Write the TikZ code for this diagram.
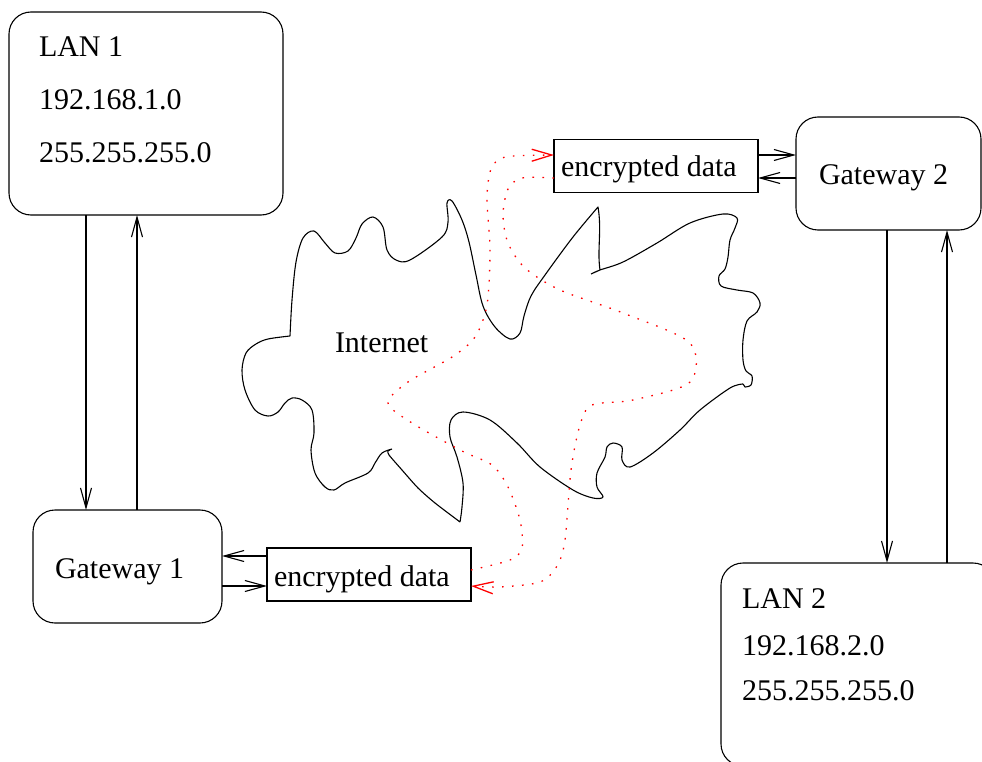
\documentclass[tikz,border=0pt]{standalone}
\usepackage{fontspec}
\setmainfont{Liberation Serif}
\usetikzlibrary{arrows.meta}
\begin{document}
\begin{tikzpicture}[x=1pt,y=-1pt,line width=1.1pt,
  every node/.style={font=\fontsize{30}{36}\selectfont},
  netbox/.style 2 args={draw, rounded corners=22pt, minimum width=#1, minimum height=#2, inner sep=0pt, outer sep=0pt},
  databox/.style={draw, minimum width=204pt, minimum height=53pt, inner sep=0pt, outer sep=0pt},
  txt/.style={anchor=base west, inner sep=0pt, outer sep=0pt},
  arr/.style={-{Straight Barb[length=20pt,width=11pt]}},
  tunnel/.style={red, line width=1.3pt, dash pattern=on 1.6pt off 8.4pt,
                 -{Straight Barb[length=20pt,width=12pt]}}]
\path[use as bounding box, clip] (0,0) rectangle (982,762);

% hosts and gateways
\node[netbox={274pt}{203pt}] (lan1) at (146,113.5) {};
\node[netbox={189pt}{113pt}] (gw1) at (127.5,566.5) {};
\node[netbox={185pt}{113pt}] (gw2) at (888.5,173.5) {};
\node[netbox={274pt}{203pt}] (lan2) at (858,664.5) {};
\node[databox] (enc1) at (369,574.5) {};
\node[databox] (enc2) at (656,166) {};

% labels
\node[txt] (lan1a) at (39,57) {LAN 1};
\node[txt] (lan1b) at (39,110) {192.168.1.0};
\node[txt] (lan1c) at (39,163) {255.255.255.0};
\node[txt] (lan2a) at (742,608) {LAN 2};
\node[txt] (lan2b) at (742,655) {192.168.2.0};
\node[txt] (lan2c) at (742,700) {255.255.255.0};
\node[txt] (gw1t) at (55,578) {Gateway 1};
\node[txt] (gw2t) at (819,185) {Gateway 2};
\node[txt] (enc1t) at (274,586) {encrypted data};
\node[txt] (enc2t) at (561,177) {encrypted data};
\node[txt] (inet) at (335,352) {Internet};

% vertical links
\coordinate (xa) at (86,0);
\coordinate (xb) at (137,0);
\coordinate (xc) at (887,0);
\coordinate (xd) at (947,0);
\draw[arr] (lan1.south -| xa) -- (gw1.north -| xa);
\draw[arr] (gw1.north -| xb) -- (lan1.south -| xb);
\draw[arr] (gw2.south -| xc) -- (lan2.north -| xc);
\draw[arr] (lan2.north -| xd) -- (gw2.south -| xd);

% horizontal links
\coordinate (ya) at (0,556);
\coordinate (yb) at (0,586);
\coordinate (yc) at (0,155);
\coordinate (yd) at (0,178);
\draw[arr] (enc1.west |- ya) -- (gw1.east |- ya);
\draw[arr] (gw1.east |- yb) -- (enc1.west |- yb);
\draw[arr] (enc2.east |- yc) -- (gw2.west |- yc);
\draw[arr] (gw2.west |- yd) -- (enc2.east |- yd);

% the Internet cloud
\draw[line join=round]
  plot[smooth, tension=0.55] coordinates {
    (290,336) (292,300) (296,262) (303,238) (314,231) (325,243) (335,253)
    (348,251) (356,238) (362,224) (373,217) (383,227) (387,250) (396,260)
    (410,260) (442,237) (448,222) (447,203) (452,201) (462,220) (469,242)
    (476,275) (483,306) (495,327) (510,339) (520,333) (524,316) (531,296)
    (545,275) (573,237) (598,207)}
  .. controls (602,230) and (597,250) .. (600,270) -- (591,274)
  plot[smooth, tension=0.55] coordinates {
    (591,274) (600,270) (623,262) (657,243) (690,223) (723,214) (737,218)
    (735,228) (730,240) (728,257) (725,269) (719,276) (721,286) (737,290)
    (753,293) (760,303) (757,312) (747,321) (743,340) (743,360) (746,371)
    (752,376) (751,385) (745,387)}
  -- (743,384)
  plot[smooth, tension=0.55] coordinates {
    (743,384) (730,388) (700,410) (680,430) (653,453) (630,467) (622,460)
    (622,447) (613,443) (607,447) (605,457) (597,473) (597,487) (603,497)
    (593,498) (573,490) (540,467) (517,443) (490,420) (463,412) (451,420)
    (450,437) (457,457) (463,483) (462,507) (460,522)}
  plot[smooth, tension=0.4] coordinates {
    (460,522) (435,503) (418,488) (402,470) (389,455) (388,451) (392,449)}
  plot[smooth, tension=0.55] coordinates {
    (392,449) (382,453) (375,463) (368,473) (345,483) (334,490) (325,487)
    (315,473) (311,450) (314,433) (312,410) (302,400) (292,398) (285,403)
    (278,412) (268,416) (255,410) (245,390) (242,370) (246,353) (256,344)
    (268,339) (290,336)};

% tunnel through the Internet
\coordinate (t1a) at (enc1.east |- 0,570);
\coordinate (t1b) at (enc2.west |- yc);
\coordinate (t2a) at (enc2.west |- yd);
\coordinate (t2b) at (enc1.east |- yb);
\draw[tunnel] plot[smooth, tension=0.5] coordinates {
  (t1a) (510,560) (522,548) (520,520) (508,487) (492,465) (462,451)
  (412,423) (388,403) (408,382) (452,357) (475,337) (487,305)
  (490,250) (487,200) (490,172) (498,160) (513,156) (t1b)};
\draw[tunnel] plot[smooth, tension=0.5] coordinates {
  (t2a) (522,178) (508,189) (503,215) (508,243) (525,268) (560,290)
  (623,313) (690,343) (690,382) (633,400) (592,405) (580,425)
  (571,470) (565,540) (557,566) (540,582) (500,587) (t2b)};
\end{tikzpicture}
\end{document}
